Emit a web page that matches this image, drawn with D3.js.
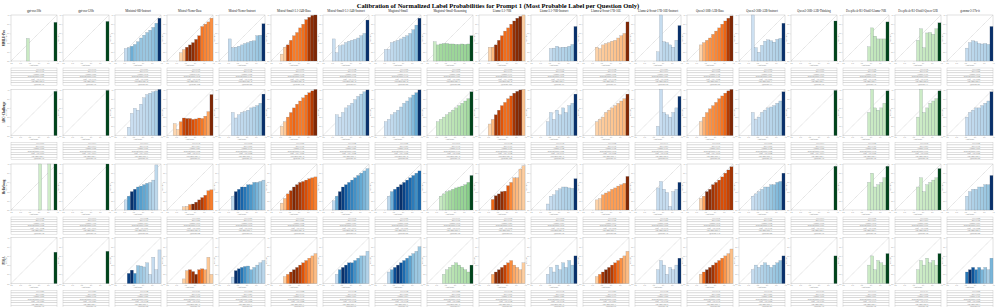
<!DOCTYPE html>
<html>
<head>
<meta charset="utf-8">
<script src="https://cdn.jsdelivr.net/npm/d3@7"></script>
<style>
  body { margin: 0; background: #fff; }
  text { font-family: "Liberation Serif", "DejaVu Serif", serif; }
</style>
</head>
<body>
<svg id="chart" width="996" height="307"></svg>
<script>
const _ = null;

const chartTitle = 'Calibration of Normalized Label Probabilities for Prompt 1 (Most Probable Label per Question Only)';
const models = [
  'gpt-oss-20b', 'gpt-oss-120b', 'Ministral-8B-Instruct', 'Mistral-Nemo-Base', 'Mistral-Nemo-Instruct',
  'Mistral-Small-3.1-24B-Base', 'Mistral-Small-3.1-24B-Instruct', 'Magistral-Small', 'Magistral-Small-Reasoning',
  'Llama-3.1-70B', 'Llama-3.1-70B-Instruct', 'Llama-4-Scout-17B-16E', 'Llama-4-Scout-17B-16E-Instruct',
  'Qwen3-30B-A3B-Base', 'Qwen3-30B-A3B-Instruct', 'Qwen3-30B-A3B-Thinking',
  'DeepSeek-R1-Distill-Llama-70B', 'DeepSeek-R1-Distill-Qwen-32B', 'gemma-3-27b-it'
];
// base = Oranges, instruct = Blues, reasoning = Greens
const modelCmap = [
  'Greens', 'Greens', 'Blues', 'Oranges', 'Blues', 'Oranges', 'Blues', 'Blues', 'Greens',
  'Oranges', 'Blues', 'Oranges', 'Blues', 'Oranges', 'Blues', 'Greens', 'Greens', 'Greens', 'Blues'
];
const datasets = ['MMLU-Pro', 'ARC-Challenge', 'HellaSwag', 'PIQA'];
const nBins = 15;
const yTicks = [0, 0.2, 0.4, 0.6, 0.8, 1.0];
const xTicks = [0, 0.2, 0.4, 0.6, 0.8, 1.0];

// accuracy per confidence bin (15 bins of width 1/15), one array per model
const accRow1 = [
  [_,_,_,_,_,.49,_,_,_,_,_,_,_,_,.84],
  [_,_,_,_,_,_,_,_,_,_,_,_,_,_,.86],
  [_,_,_,.27,.29,.32,.36,.42,.50,.56,.62,.67,.73,.82,.93],
  [_,_,_,_,.18,.25,.30,.35,.40,.47,.55,.75,.80,.85,.93],
  [_,_,_,.48,.29,.30,.32,.35,.38,.40,.43,.44,.55,.56,.81],
  [_,_,_,.15,.30,.35,.45,.55,.62,.72,.80,.90,.95,.99,1.0],
  [_,_,_,.48,.18,.33,.35,.40,.43,.45,.47,.50,.55,.60,.89],
  [_,_,_,.25,.25,.40,.42,.45,.48,.52,.55,.60,.68,.78,.93],
  [_,_,.42,.35,.37,.38,.38,.37,.37,.36,.36,.37,.36,.37,.55],
  [_,_,_,.30,.30,.35,.45,.55,.65,.72,.80,.87,.93,.97,1.0],
  [_,_,_,_,_,_,.27,.28,.32,.29,.30,.30,.32,.36,.75],
  [_,_,_,_,.30,.27,.35,.38,.40,.43,.45,.50,.55,.60,.85],
  [_,_,_,_,_,_,_,.20,1.0,.42,.40,.35,.30,.45,.77],
  [_,_,_,_,.35,.40,.45,.50,.58,.65,.72,.80,.87,.93,.98],
  [_,_,_,_,1.0,.29,.19,.34,.43,.46,.44,.41,.47,.49,.82],
  [_,_,_,_,_,_,_,_,_,_,_,_,_,_,.87],
  [_,_,_,_,_,_,_,_,.31,.72,.54,.48,.48,.48,.85],
  [_,_,_,_,_,_,_,.45,.70,.29,.61,.62,.58,.70,.83],
  [_,_,_,_,_,_,.28,.40,.44,.42,.38,.37,.38,.36,.75]
];
const cntRow1 = [
  [_,_,_,_,_,4,_,_,_,_,_,_,_,_,96],
  [_,_,_,_,_,_,_,_,_,_,_,_,_,_,100],
  [_,_,_,8,30,60,45,40,38,36,36,38,42,50,160],
  [_,_,_,_,5,25,150,170,160,140,120,80,70,65,60],
  [_,_,_,10,20,22,25,25,28,30,30,32,35,38,160],
  [_,_,_,3,20,150,110,90,90,95,100,120,170,190,200],
  [_,_,_,5,10,15,18,20,22,24,26,28,30,35,200],
  [_,_,_,5,10,15,20,22,25,28,32,36,45,60,200],
  [_,_,5,20,25,26,27,28,28,28,28,28,29,30,120],
  [_,_,_,5,30,160,150,110,90,90,110,160,170,175,10],
  [_,_,_,_,_,_,8,15,18,20,20,22,24,30,150],
  [_,_,_,_,5,10,12,14,15,16,18,20,22,25,150],
  [_,_,_,_,_,_,_,5,8,15,15,14,12,15,150],
  [_,_,_,_,5,40,60,70,75,80,85,95,110,160,200],
  [_,_,_,_,2,10,12,14,16,18,18,20,22,25,160],
  [_,_,_,_,_,_,_,_,_,_,_,_,_,_,100],
  [_,_,_,_,_,_,_,_,5,8,10,10,10,12,120],
  [_,_,_,_,_,_,_,4,6,6,8,8,9,10,120],
  [_,_,_,_,_,_,8,12,15,18,18,18,20,22,150]
];

const accRow2 = [
  [_,_,_,_,_,_,_,_,_,_,_,_,_,_,.96],
  [_,_,_,_,_,_,_,_,_,_,_,_,_,_,.98],
  [_,_,_,_,.18,.48,.59,.55,.68,.82,.89,.92,.95,.97,1.0],
  [_,_,.26,.13,.30,.38,.37,.37,.35,.36,.38,.37,.42,.52,.89],
  [_,_,_,_,.50,.38,.45,.50,.52,.55,.60,.62,.65,.70,.90],
  [_,_,_,.20,.30,.40,.50,.60,.68,.75,.82,.88,.93,.97,1.0],
  [_,_,_,_,.45,.40,.50,.60,.65,.70,.78,.85,.90,.95,.99],
  [_,_,_,.30,.35,.45,.50,.55,.62,.70,.75,.82,.88,.93,.99],
  [_,_,_,.30,.35,.40,.45,.50,.55,.60,.65,.70,.75,.80,.95],
  [_,_,_,.25,.35,.45,.55,.65,.72,.80,.86,.92,.96,.99,1.0],
  [_,_,_,_,_,.30,.50,.35,.55,.45,.60,.50,.65,.70,.90],
  [_,_,_,_,.30,.35,.40,.50,.55,.60,.65,.70,.75,.80,.90],
  [_,_,_,_,_,_,_,.20,1.0,.50,.45,.40,.50,.60,.85],
  [_,_,_,_,.30,.40,.50,.58,.65,.72,.80,.86,.92,.97,1.0],
  [_,_,_,_,.50,.35,.40,.50,.55,.60,.62,.65,.70,.75,.95],
  [_,_,_,_,_,_,_,_,_,_,_,_,_,_,.98],
  [_,_,_,_,_,_,_,_,.50,1.0,.60,.55,.60,.70,.97],
  [_,_,_,_,_,_,_,.40,1.0,.50,.60,.70,.75,.80,.97],
  [_,_,_,_,_,_,.40,.50,.55,.60,.60,.65,.70,.75,.95]
];
const cntRow2 = [
  [_,_,_,_,_,_,_,_,_,_,_,_,_,_,100],
  [_,_,_,_,_,_,_,_,_,_,_,_,_,_,100],
  [_,_,_,_,3,6,8,10,12,15,18,22,28,35,200],
  [_,_,2,4,60,110,120,110,100,90,80,70,55,40,150],
  [_,_,_,_,5,8,10,12,14,16,18,20,24,30,150],
  [_,_,_,5,20,80,100,110,100,90,90,100,130,160,200],
  [_,_,_,_,5,8,10,12,15,18,20,25,30,40,200],
  [_,_,_,5,10,15,20,25,28,32,36,45,60,80,200],
  [_,_,_,5,8,10,12,14,16,18,20,22,25,30,150],
  [_,_,_,5,30,150,140,110,90,90,110,150,170,175,20],
  [_,_,_,_,_,5,8,10,12,14,15,16,18,20,150],
  [_,_,_,_,5,10,12,14,15,16,18,20,22,25,150],
  [_,_,_,_,_,_,_,4,6,10,10,10,12,14,150],
  [_,_,_,_,5,40,60,70,75,80,85,95,110,160,200],
  [_,_,_,_,4,8,10,12,14,16,18,20,22,25,160],
  [_,_,_,_,_,_,_,_,_,_,_,_,_,_,100],
  [_,_,_,_,_,_,_,_,4,5,6,6,7,8,120],
  [_,_,_,_,_,_,_,3,4,5,6,7,8,9,120],
  [_,_,_,_,_,_,6,10,12,14,16,18,20,22,150]
];

const accRow3 = [
  [_,_,_,_,_,_,_,_,_,1.0,_,_,1.0,_,1.0],
  [_,_,_,_,_,_,_,_,_,_,_,_,_,_,1.0],
  [_,_,_,.22,.30,.40,.45,.50,.52,.55,.58,.60,.65,.98,_],
  [_,_,_,_,_,.07,.08,.12,.13,.17,.22,.27,.32,.42,.44],
  [_,_,_,_,.30,.40,.45,.50,.50,.55,.55,.60,.60,.62,.65],
  [_,_,_,.15,.25,.35,.42,.50,.55,.60,.62,.65,.68,.70,.72],
  [_,_,_,.20,.30,.40,.50,.55,.60,.65,.70,.75,.80,.85,.90],
  [_,_,_,_,.30,.40,.45,.50,.55,.60,.65,.70,.75,.80,.85],
  [_,_,_,_,.30,.35,.40,.42,.45,.48,.50,.52,.55,.60,.75],
  [_,_,_,_,.23,.31,.35,.40,.41,.53,.60,.70,.70,.89,.96],
  [_,_,_,_,_,.13,.30,.33,.42,.46,.50,.50,.48,.47,.68],
  [_,_,_,_,.22,.25,.33,.37,.40,.45,.48,.52,.55,.58,.73],
  [_,_,_,_,_,_,_,.48,.62,.45,.38,.08,.40,.45,.60],
  [_,_,_,_,.25,.30,.40,.45,.55,.60,.65,.72,.80,.87,.94],
  [_,_,_,_,.30,.35,.40,.45,.50,.50,.55,.55,.60,.62,.80],
  [_,_,_,_,_,_,_,_,_,_,_,_,_,_,.95],
  [_,_,_,_,_,_,_,_,.60,.80,.50,.55,.60,.70,.95],
  [_,_,_,_,_,_,_,.50,.70,.40,.55,.60,.65,.70,.90],
  [_,_,_,_,_,_,.30,.40,.45,.45,.50,.50,.55,.55,.75]
];
const cntRow3 = [
  [_,_,_,_,_,_,_,_,_,2,_,_,2,_,100],
  [_,_,_,_,_,_,_,_,_,_,_,_,_,_,100],
  [_,_,_,5,60,120,110,60,55,50,45,20,15,10,_],
  [_,_,_,_,_,5,8,60,150,140,130,120,100,70,65],
  [_,_,_,_,10,120,100,90,80,70,60,50,40,30,20],
  [_,_,_,5,20,60,100,120,110,100,90,80,70,60,50],
  [_,_,_,10,60,150,140,120,100,90,80,70,60,50,40],
  [_,_,_,_,10,40,80,100,110,100,90,80,70,60,80],
  [_,_,_,_,5,10,15,20,22,25,25,25,25,30,100],
  [_,_,_,_,80,150,150,140,120,90,60,30,25,15,10],
  [_,_,_,_,_,3,5,8,10,12,14,15,15,16,100],
  [_,_,_,_,5,10,40,45,45,45,45,45,45,50,150],
  [_,_,_,_,_,_,_,5,6,6,5,3,5,6,100],
  [_,_,_,_,5,40,150,140,130,120,110,100,100,110,130],
  [_,_,_,_,5,10,15,20,25,30,35,40,45,50,150],
  [_,_,_,_,_,_,_,_,_,_,_,_,_,_,100],
  [_,_,_,_,_,_,_,_,4,5,6,6,7,8,120],
  [_,_,_,_,_,_,_,3,4,5,6,7,8,9,120],
  [_,_,_,_,_,_,10,14,18,20,22,24,26,28,120]
];

const accRow4 = [
  [_,_,_,_,_,_,_,_,_,_,_,_,_,_,.68],
  [_,_,_,_,_,_,_,_,_,_,_,_,_,_,.70],
  [_,_,_,_,.22,.29,.22,.39,.38,.36,.45,.20,.57,.30,.73],
  [_,_,_,_,_,.10,.28,.30,.26,.20,.30,.32,.30,.57,.20],
  [_,_,_,_,.14,.28,.32,.35,.37,.38,.30,.35,.40,.45,.50],
  [_,_,_,_,.15,.20,.25,.30,.35,.40,.45,.50,.55,.60,.65],
  [_,_,_,_,.20,.30,.35,.40,.45,.45,.50,.55,.60,.60,.70],
  [_,_,_,_,.25,.30,.35,.40,.45,.50,.55,.60,.65,.70,.80],
  [_,_,_,_,_,.20,.30,.35,.40,.45,.40,.35,.30,.25,.40],
  [_,_,_,_,.20,.25,.30,.35,.40,.45,.50,.40,.35,.30,.45],
  [_,_,_,_,_,.20,.35,.25,.40,.30,.45,.35,.50,.40,.60],
  [_,_,_,_,.15,.20,.25,.30,.35,.40,.45,.50,.55,.60,.70],
  [_,_,_,_,_,_,_,.30,.50,.40,.20,.35,.30,.40,.55],
  [_,_,_,_,.20,.25,.30,.35,.40,.45,.50,.55,.60,.65,.75],
  [_,_,_,_,.30,.40,.35,.40,.45,.40,.35,.40,.45,.50,.60],
  [_,_,_,_,_,_,_,_,_,_,_,_,_,_,.60],
  [_,_,_,_,_,_,_,_,.40,.60,.30,.50,.45,.40,.65],
  [_,_,_,_,_,_,_,.30,.50,.40,.55,.45,.50,.40,.65],
  [_,_,_,_,_,_,.25,.30,.35,.30,.35,.30,.35,.30,.55]
];
const cntRow4 = [
  [_,_,_,_,_,_,_,_,_,_,_,_,_,_,100],
  [_,_,_,_,_,_,_,_,_,_,_,_,_,_,100],
  [_,_,_,_,150,160,90,40,35,30,20,10,8,5,6],
  [_,_,_,_,_,10,25,120,140,160,100,80,40,15,10],
  [_,_,_,_,10,150,140,100,80,60,50,40,30,20,15],
  [_,_,_,_,10,60,120,140,130,110,90,70,50,30,20],
  [_,_,_,_,10,80,150,140,120,100,80,60,40,30,20],
  [_,_,_,_,10,60,120,140,120,100,80,60,40,30,30],
  [_,_,_,_,_,5,8,10,12,14,15,15,16,18,100],
  [_,_,_,_,40,150,160,140,120,90,60,40,30,20,10],
  [_,_,_,_,_,5,8,10,12,14,15,16,18,20,100],
  [_,_,_,_,10,60,120,140,130,110,90,70,50,30,20],
  [_,_,_,_,_,_,_,5,6,6,5,5,6,7,100],
  [_,_,_,_,10,80,150,140,130,110,90,70,50,30,20],
  [_,_,_,_,5,10,12,14,16,18,20,22,24,26,100],
  [_,_,_,_,_,_,_,_,_,_,_,_,_,_,100],
  [_,_,_,_,_,_,_,_,4,5,6,6,7,8,120],
  [_,_,_,_,_,_,_,3,4,5,6,7,8,9,120],
  [_,_,_,_,_,_,80,120,100,80,60,40,30,20,40]
];

const accuracy = [accRow1, accRow2, accRow3, accRow4];
const counts = [cntRow1, cntRow2, cntRow3, cntRow4];

// layout
const colStep = 52, plotW = 46, plotH = 46, left0 = 11;
const rowTops = [15, 89.5, 164, 237.5];
const tableGap = 7, tableRowH = 2.45;

const interp = {
  Blues: d3.interpolateBlues,
  Oranges: d3.interpolateOranges,
  Greens: d3.interpolateGreens
};

const svg = d3.select('#chart');

svg.append('text')
  .attr('x', 498).attr('y', 8)
  .attr('text-anchor', 'middle')
  .attr('font-weight', 'bold')
  .attr('font-size', 6.5)
  .attr('fill', '#000')
  .text(chartTitle);

const fmt = d3.format('.3f');

datasets.forEach((ds, r) => {
  const y0 = rowTops[r];

  svg.append('text')
    .attr('transform', `translate(4.5,${y0 + plotH / 2}) rotate(-90)`)
    .attr('text-anchor', 'middle')
    .attr('font-weight', 'bold')
    .attr('font-size', 3.2)
    .attr('fill', '#222')
    .text(ds);

  models.forEach((m, c) => {
    const x0 = left0 + c * colStep;
    const g = svg.append('g').attr('transform', `translate(${x0},${y0})`);
    const x = d3.scaleLinear().domain([0, 1]).range([0, plotW]);
    const y = d3.scaleLinear().domain([0, 1]).range([plotH, 0]);

    const acc = accuracy[r][c];
    const cnt = counts[r][c];
    const bins = acc.map((a, k) => ({ k, a, n: cnt[k] })).filter(d => d.a != null);
    const maxN = d3.max(bins, d => d.n);
    const color = d => interp[modelCmap[c]](0.2 + 0.8 * d.n / maxN);

    if (r === 0) {
      g.append('text')
        .attr('x', plotW / 2).attr('y', -2.6)
        .attr('text-anchor', 'middle')
        .attr('font-size', 3)
        .attr('fill', '#222')
        .text(m);
    }

    // axes
    const ya = g.append('g').call(d3.axisLeft(y).tickValues(yTicks).tickSize(1).tickPadding(0.6).tickFormat(d3.format('.1f')));
    const xa = g.append('g').attr('transform', `translate(0,${plotH})`)
      .call(d3.axisBottom(x).tickValues(xTicks).tickSize(1).tickPadding(0.5).tickFormat(d3.format('.1f')));
    [ya, xa].forEach(a => {
      a.select('.domain').remove();
      a.selectAll('line').attr('stroke', '#bbb').attr('stroke-width', 0.3);
      a.selectAll('text').attr('font-size', 1.8).attr('fill', '#888').attr('font-family', 'Liberation Serif, serif');
    });

    g.append('rect')
      .attr('width', plotW).attr('height', plotH)
      .attr('fill', 'none').attr('stroke', '#c4c4c4').attr('stroke-width', 0.5);

    g.append('line')
      .attr('x1', x(0)).attr('y1', y(0)).attr('x2', x(1)).attr('y2', y(1))
      .attr('stroke', '#aaa').attr('stroke-width', 0.45).attr('stroke-dasharray', '1,0.7');

    g.selectAll('rect.bar').data(bins).join('rect')
      .attr('class', 'bar')
      .attr('x', d => x(d.k / nBins))
      .attr('width', x(1 / nBins))
      .attr('y', d => y(d.a))
      .attr('height', d => y(0) - y(d.a))
      .attr('fill', color)
      .attr('stroke', '#5a6472').attr('stroke-opacity', 0.55).attr('stroke-width', 0.3);

    g.append('text')
      .attr('x', plotW / 2).attr('y', plotH + 4.6)
      .attr('text-anchor', 'middle').attr('font-size', 1.9).attr('fill', '#777')
      .text('Confidence');
    g.append('text')
      .attr('transform', `translate(-4,${plotH / 2}) rotate(-90)`)
      .attr('text-anchor', 'middle').attr('font-size', 1.9).attr('fill', '#777')
      .text('Accuracy');

    // summary table computed from the bins
    const N = d3.sum(bins, d => d.n);
    const meanAcc = d3.sum(bins, d => d.n * d.a) / N;
    const meanConf = d3.sum(bins, d => d.n * (d.k + 0.5) / nBins) / N;
    const ece = d3.sum(bins, d => d.n / N * Math.abs(d.a - (d.k + 0.5) / nBins));
    const mce = d3.max(bins, d => Math.abs(d.a - (d.k + 0.5) / nBins));
    const rows = [
      ['ECE', fmt(ece)],
      ['MCE', fmt(mce)],
      ['Accuracy', fmt(meanAcc)],
      ['Mean confidence', fmt(meanConf)],
      ['Conf. - Acc.', fmt(meanConf - meanAcc)],
      ['Non-empty bins', String(bins.length)],
      ['Questions', String(N)]
    ];
    const tg = g.append('g').attr('transform', `translate(0,${plotH + tableGap})`);
    tg.selectAll('rect').data(rows).join('rect')
      .attr('x', 0).attr('y', (d, i) => i * tableRowH)
      .attr('width', plotW).attr('height', tableRowH)
      .attr('fill', '#fff').attr('stroke', '#b8b8b8').attr('stroke-width', 0.35);
    tg.selectAll('text').data(rows).join('text')
      .attr('x', plotW * 0.72).attr('y', (d, i) => i * tableRowH + tableRowH * 0.75)
      .attr('text-anchor', 'end').attr('font-size', 1.7).attr('fill', '#6e6e6e')
      .text(d => `${d[0]}: ${d[1]}`);
  });
});
</script>
</body>
</html>
